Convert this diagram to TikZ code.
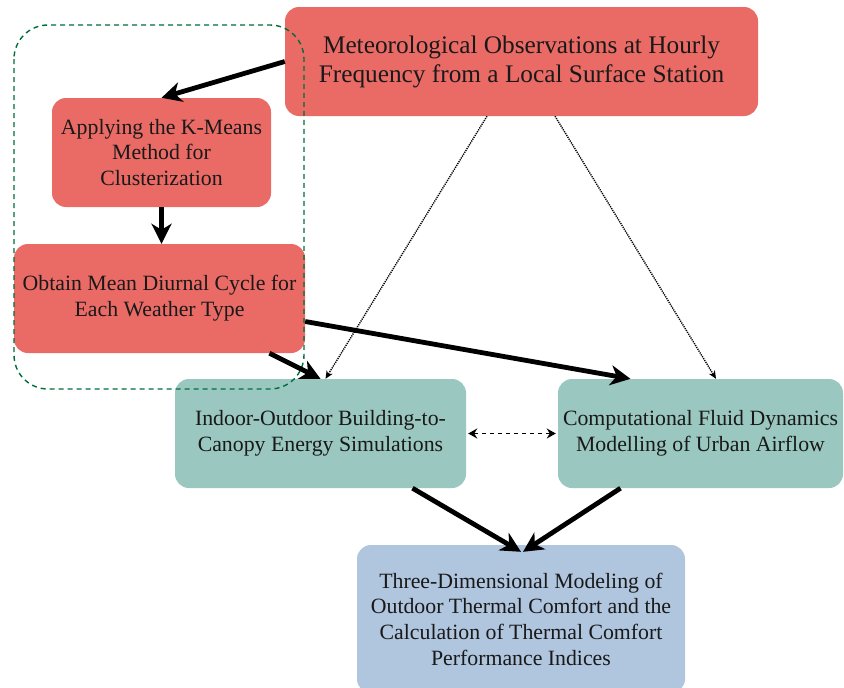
\documentclass[tikz,border=0pt]{standalone}
\usepackage{fontspec}
\setmainfont{Liberation Serif}
\usetikzlibrary{arrows.meta,calc}
\definecolor{boxred}{HTML}{EA6B66}
\definecolor{boxteal}{HTML}{9AC7BF}
\definecolor{boxblue}{HTML}{B0C5DE}
\definecolor{grpgreen}{RGB}{0,110,60}
\tikzset{
  box/.style={rectangle, rounded corners=14pt, inner sep=0pt, align=center, font=\fontsize{21.8}{25.7}\selectfont, text=black!90},
  redbox/.style={box, fill=boxred},
  tealbox/.style={box, fill=boxteal},
  bluebox/.style={box, fill=boxblue},
  bigarrow/.style={line width=4.8pt, -{Stealth[length=20pt,width=20pt,inset=6pt]}},
  dotarrow/.style={line width=1.4pt, dash pattern=on 1.2pt off 1pt, -{Stealth[length=8pt,width=7pt]}},
  dasharrow/.style={line width=1.8pt, dash pattern=on 4.5pt off 3.5pt, {Stealth[length=9pt,width=10pt]}-{Stealth[length=9pt,width=10pt]}},
  grpbox/.style={draw=grpgreen, line width=1.4pt, dash pattern=on 5pt off 4pt, rounded corners=34pt}
}
\begin{document}
\begin{tikzpicture}[x=1pt,y=-1pt]
\useasboundingbox (0,0) rectangle (844,688);
\fill[white] (0,0) rectangle (844,688);
\node[redbox, minimum width=473pt, minimum height=109pt, font=\fontsize{25.3}{29}\selectfont] (met) at (521.5,61.5) {Meteorological Observations at Hourly\\Frequency from a Local Surface Station};
\node[redbox, minimum width=219pt, minimum height=109pt] (km) at (161.5,152.5) {Applying the K-Means\\Method for\\Clusterization};
\node[redbox, minimum width=291pt, minimum height=109pt] (obt) at (159.5,298.5) {Obtain Mean Diurnal Cycle for\\Each Weather Type};
\node[tealbox, minimum width=291pt, minimum height=109pt] (ind) at (320.5,433.5) {Indoor-Outdoor Building-to-\\Canopy Energy Simulations};
\node[tealbox, minimum width=285pt, minimum height=109pt] (cfd) at (700.5,433.5) {Computational Fluid Dynamics\\Modelling of Urban Airflow};
\node[bluebox, minimum width=328pt, minimum height=148pt] (bot) at (521,619) {Three-Dimensional Modeling of\\Outdoor Thermal Comfort and the\\Calculation of Thermal Comfort\\Performance Indices};
\draw[grpbox] (14,25) rectangle (304,389);
\draw[bigarrow] (met.west) -- (km.north);
\draw[bigarrow] (km.south) -- (km.south |- obt.north);
\draw[bigarrow] ([xshift=110pt]obt.south) -- (ind.north);
\draw[bigarrow] ([yshift=-23pt]obt.east) -- ([xshift=-70pt]cfd.north);
\draw[dotarrow] ([xshift=-34.5pt]met.south) -- ([xshift=5pt]ind.north);
\draw[dotarrow] ([xshift=33.5pt]met.south) -- ([xshift=15.5pt]cfd.north);
\draw[dasharrow] ([xshift=2pt]ind.east) -- ([xshift=-2pt]cfd.west);
\draw[bigarrow] ([xshift=92pt]ind.south) -- ([yshift=-7pt]bot.north);
\draw[bigarrow] ([xshift=-80pt]cfd.south) -- ([xshift=2pt,yshift=-7pt]bot.north);
\end{tikzpicture}
\end{document}
